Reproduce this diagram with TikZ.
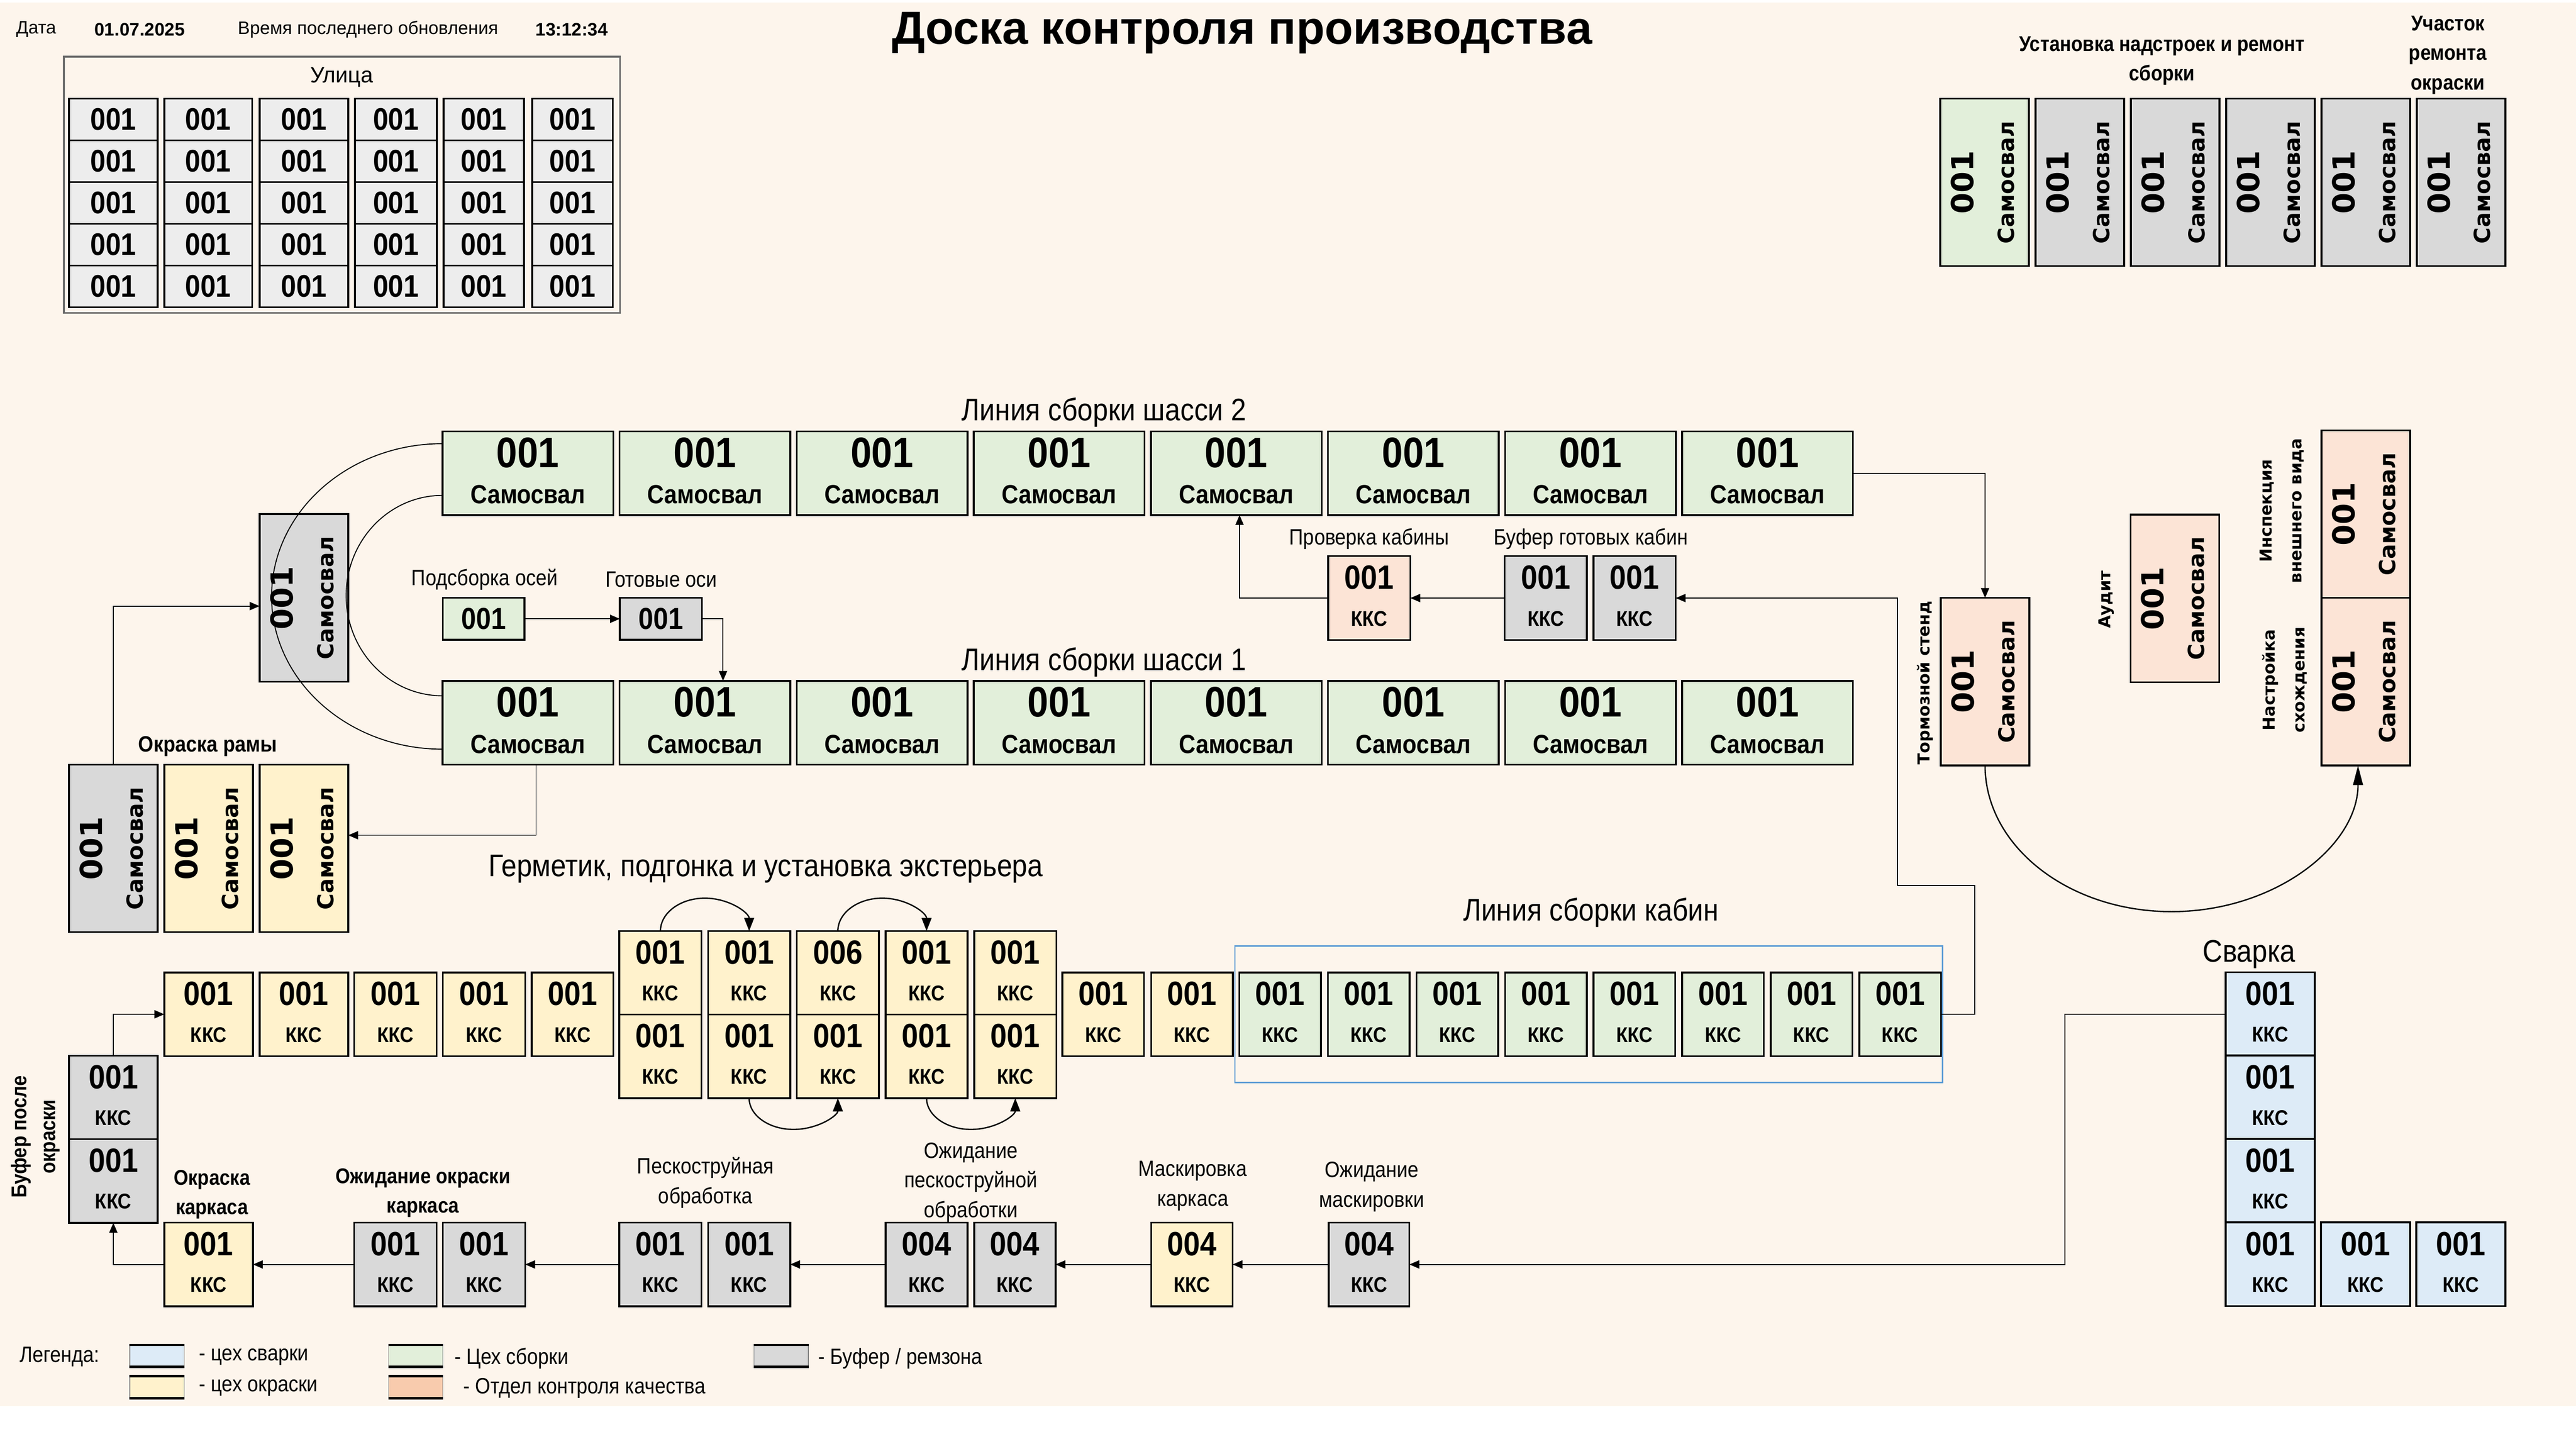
\documentclass[tikz,border=0pt]{standalone}
\usepackage{fontspec}
\setmainfont{Liberation Sans}
\newfontfamily\narrowf{Liberation Sans}[FakeStretch=0.88]
\newfontfamily\dvsans{DejaVu Sans}
\usetikzlibrary{arrows.meta}

\definecolor{bgc}{HTML}{FDF5EC}
\definecolor{weld}{HTML}{DDEBF7}
\definecolor{asm}{HTML}{E2EFDA}
\definecolor{paint}{HTML}{FFF2CC}
\definecolor{qc}{HTML}{FCE4D6}
\definecolor{qcleg}{HTML}{F8CBAD}
\definecolor{buf}{HTML}{D9D9D9}
\definecolor{street}{HTML}{EDEDED}
\definecolor{cabframe}{HTML}{5B9BD5}

\tikzset{
  box/.style={draw, line width=1.1pt, anchor=north west, inner sep=0pt, outer sep=0pt},
  bignum/.style={font=\narrowf\bfseries\fontsize{26}{26}\selectfont, inner sep=0pt},
  bigsub/.style={font=\narrowf\bfseries\fontsize{16}{16}\selectfont, inner sep=0pt},
  midnum/.style={font=\narrowf\bfseries\fontsize{20.5}{20}\selectfont, inner sep=0pt},
  midsub/.style={font=\narrowf\bfseries\fontsize{13}{12}\selectfont, inner sep=0pt},
  vnum/.style={font=\dvsans\bfseries\fontsize{18.5}{18}\selectfont, rotate=90, inner sep=0pt},
  vsub/.style={font=\dvsans\bfseries\fontsize{13.5}{13}\selectfont, rotate=90, inner sep=0pt},
  sect/.style={font=\narrowf\fontsize{19}{21}\selectfont, inner sep=0pt},
  lbl/.style={font=\narrowf\fontsize{13.5}{18}\selectfont, align=center, inner sep=0pt},
  blbl/.style={font=\narrowf\bfseries\fontsize{13}{18}\selectfont, align=center, inner sep=0pt},
  vlbl/.style={font=\dvsans\bfseries\fontsize{10}{18}\selectfont, align=center, rotate=90, inner sep=0pt},
  swatch/.style={draw=gray, line width=0.4pt, minimum width=33, minimum height=13, inner sep=0pt},
  arr/.style={-{Triangle[length=6pt,width=5pt]}, line width=0.6pt},
  arcarr/.style={-{Triangle[length=8pt,width=6pt]}, line width=0.8pt},
  bigarr/.style={-{Triangle[length=12pt,width=6pt]}, line width=0.8pt}
}

% chassis box: name, x, y, fill
\newcommand{\chbox}[4]{%
  \node[box, fill=#4, minimum width=104, minimum height=51] (#1) at ({#2},{#3}) {};
  \node[bignum] at ([yshift=-13pt]#1.north) {001};
  \node[bigsub] at ([yshift=-38.5pt]#1.north) {Самосвал};}
% cabin box: name, x, y, width, fill, number
\newcommand{\kbox}[6]{%
  \node[box, fill=#5, minimum width=#4, minimum height=51] (#1) at ({#2},{#3}) {};
  \node[midnum] at ([yshift=-13pt]#1.north) {#6};
  \node[midsub] at ([yshift=-38pt]#1.north) {ККС};}
% upright truck box: name, x, y, fill
\newcommand{\vtbox}[4]{%
  \node[box, fill=#4, minimum width=54, minimum height=102] (#1) at ({#2},{#3}) {};
  \node[vnum] at ([xshift=13.5pt]#1.west) {001};
  \node[vsub] at ([xshift=40pt]#1.west) {Самосвал};}

\begin{document}
\begin{tikzpicture}[x=1pt, y=-1pt]
  %%%%% START %%%%%
  \useasboundingbox (0,0) rectangle (1568,882);
  \fill[bgc] (0,1.5) rectangle (1568,856);

  % header
  \node[font=\fontsize{11}{11}\selectfont] (dt) at (22,18) {Дата};
  \node[font=\bfseries\fontsize{11}{11}\selectfont] (dtv) at (85,18) {01.07.2025};
  \node[font=\fontsize{11}{11}\selectfont] (upd) at (224,18) {Время последнего обновления};
  \node[font=\bfseries\fontsize{11}{11}\selectfont] (updv) at (348,18) {13:12:34};
  \node[font=\bfseries\fontsize{28.3}{28}\selectfont] (title) at (756,20) {Доска контроля производства};

  % street
  \node[draw=gray!85!black, line width=1pt, anchor=north west, minimum width=338.6, minimum height=156, inner sep=0pt] (street) at (38.4,34) {};
  \node[font=\fontsize{13.5}{13.5}\selectfont] (streetlbl) at (208,47) {Улица};
  \foreach \c/\cx/\cw in {1/42/54, 2/100/53.5, 3/158/54, 4/216/50, 5/270/49, 6/324/49}
    \foreach \r in {1,...,5}
      \node[box, fill=street, minimum width=\cw, minimum height=25.4, font=\narrowf\bfseries\fontsize{19}{19}\selectfont] (st\c\r) at (\cx,{60+25.4*(\r-1)}) {001};

  % body shop and repair
  \node[blbl] (toplbl) at (1316,37) {Установка надстроек и ремонт\\сборки};
  \node[blbl] (replbl) at (1490,33.5) {Участок\\ремонта\\окраски};
  \vtbox{tr1}{1181}{60}{asm}
  \vtbox{tr2}{1239}{60}{buf}
  \vtbox{tr3}{1297}{60}{buf}
  \vtbox{tr4}{1355}{60}{buf}
  \vtbox{tr5}{1413}{60}{buf}
  \vtbox{tr6}{1471}{60}{buf}

  % chassis lines
  \node[sect] (line2lbl) at (672,251) {Линия сборки шасси 2};
  \node[sect] (line1lbl) at (672,403) {Линия сборки шасси 1};
  \foreach \i in {1,...,8} {
    \chbox{l2b\i}{269.3+107.8*(\i-1)}{262.6}{asm}
    \chbox{l1b\i}{269.3+107.8*(\i-1)}{414.5}{asm}
  }
  \vtbox{fb}{158}{313}{buf}

  % axles
  \node[lbl] (sublbl) at (295,352.7) {Подсборка осей};
  \node[lbl] (rdylbl) at (402.6,352.7) {Готовые оси};
  \node[box, fill=asm, minimum width=49.8, minimum height=25.5, font=\narrowf\bfseries\fontsize{18.5}{18.5}\selectfont] (sub1) at (269.5,364) {001};
  \node[box, fill=buf, minimum width=50, minimum height=25.5, font=\narrowf\bfseries\fontsize{18.5}{18.5}\selectfont] (rdy1) at (377.3,364) {001};

  % cabin check and buffer
  \node[lbl] (chklbl) at (833.4,328) {Проверка кабины};
  \node[lbl] (bclbl) at (968.4,328) {Буфер готовых кабин};
  \kbox{chk}{808.5}{338.6}{50}{qc}{001}
  \kbox{bc1}{915.9}{338.6}{50}{buf}{001}
  \kbox{bc2}{970}{338.6}{50}{buf}{001}

  % quality control
  \vtbox{tb}{1181.3}{364}{qc}
  \node[vlbl] (tblbl) at (1171.8,415.7) {Тормозной стенд};
  \vtbox{aud}{1296.8}{313.3}{qc}
  \node[vlbl] (audlbl) at (1282,365) {Аудит};
  \vtbox{insp}{1413}{262}{qc}
  \vtbox{nas}{1413}{364}{qc}
  \node[vlbl] (insplbl) at (1389,311) {Инспекция\\внешнего вида};
  \node[vlbl] (naslbl) at (1390.7,414) {Настройка\\схождения};

  % frame paint
  \node[blbl, font=\narrowf\bfseries\fontsize{13.5}{18}\selectfont] (prlbl) at (126.5,454.5) {Окраска рамы};
  \vtbox{pr1}{42}{465.5}{buf}
  \vtbox{pr2}{100}{465.5}{paint}
  \vtbox{pr3}{158}{465.5}{paint}

  % sealing, fitting, exterior
  \node[sect] (seallbl) at (466,529) {Герметик, подгонка и установка экстерьера};
  \kbox{y1}{100}{592}{54}{paint}{001}
  \kbox{y2}{158}{592}{54}{paint}{001}
  \kbox{y3}{215.6}{592}{50.2}{paint}{001}
  \kbox{y4}{269.5}{592}{50.2}{paint}{001}
  \kbox{y5}{323.6}{592}{49.8}{paint}{001}
  \foreach \i/\n in {1/001, 2/001, 3/006, 4/001, 5/001} {
    \kbox{gt\i}{377+54*(\i-1)}{566.8}{50}{paint}{\n}
    \kbox{gb\i}{377+54*(\i-1)}{617.6}{50}{paint}{001}
  }
  \kbox{y6}{646.6}{592}{49.8}{paint}{001}
  \kbox{y7}{700.7}{592}{49.8}{paint}{001}

  % cabin line
  \node[sect] (cablbl) at (968.4,555.5) {Линия сборки кабин};
  \foreach \i in {1,...,8} {
    \kbox{cb\i}{754.4+53.9*(\i-1)}{592}{49.7}{asm}{001}
  }
  \draw[cabframe, line width=0.9pt] ([xshift=-2.7pt,yshift=16pt]cb1.north west) rectangle ([xshift=1pt,yshift=-16pt]cb8.south east);

  % welding
  \node[sect] (weldlbl) at (1369,581) {Сварка};
  \kbox{w1}{1354.8}{591.9}{54.2}{weld}{001}
  \kbox{w2}{1354.8}{642.6}{54.2}{weld}{001}
  \kbox{w3}{1354.8}{693.4}{54.2}{weld}{001}
  \kbox{w4}{1354.8}{744.2}{54.2}{weld}{001}
  \kbox{w5}{1412.8}{744.2}{54.2}{weld}{001}
  \kbox{w6}{1470.8}{744.2}{54.2}{weld}{001}

  % frame paint line (bottom)
  \node[blbl, rotate=90, font=\narrowf\bfseries\fontsize{13}{17.6}\selectfont] (balbl) at (21.7,692) {Буфер после\\окраски};
  \kbox{ba1}{42}{642.7}{54}{buf}{001}
  \kbox{ba2}{42}{693.5}{54}{buf}{001}
  \node[blbl] (pklbl) at (129,727.2) {Окраска\\каркаса};
  \kbox{pk}{100}{744.3}{54}{paint}{001}
  \node[blbl] (owlbl) at (257.5,726.2) {Ожидание окраски\\каркаса};
  \kbox{ow1}{215.6}{744.3}{50.2}{buf}{001}
  \kbox{ow2}{269.5}{744.3}{50.2}{buf}{001}
  \node[lbl] (sblbl) at (429.4,720) {Пескоструйная\\обработка};
  \kbox{sb1}{377}{744.3}{50}{buf}{001}
  \kbox{sb2}{431}{744.3}{50}{buf}{001}
  \node[lbl] (oplbl) at (591,719.8) {Ожидание\\пескоструйной\\обработки};
  \kbox{op1}{539}{744.3}{50}{buf}{004}
  \kbox{op2}{593}{744.3}{49.5}{buf}{004}
  \node[lbl] (mklbl) at (726,722) {Маскировка\\каркаса};
  \kbox{mk}{700.7}{744.3}{49.6}{paint}{004}
  \node[lbl] (omlbl) at (835,722.5) {Ожидание\\маскировки};
  \kbox{om}{808.7}{744.3}{49.2}{buf}{004}

  % connectors
  \draw[line width=0.6pt] ([yshift=18pt]l2b1.west) arc[start angle=270, end angle=90, x radius=104, y radius=93];
  \draw[line width=0.6pt] ([yshift=-13.5pt]l2b1.west) arc[start angle=270, end angle=90, x radius=58.6, y radius=61];
  \draw[arr] (sub1) -- (rdy1);
  \draw[arr] (rdy1.east) -| ([xshift=11pt]l1b2.north);
  \draw[arr] (bc1) -- (chk);
  \draw[arr] (chk.west) -| ([xshift=2pt]l2b5.south);
  \coordinate (cabup) at (1202,539);
  \coordinate (cableft) at (1155,539);
  \draw[arr] (cb8.east) -| (cabup) -- (cableft) |- (bc2.east);
  \draw[arr] (l2b8.east) -| (tb.north);
  \draw[bigarr] (tb.south) arc[start angle=180, end angle=0, x radius=113.5, y radius=89];
  \draw[arr] (pr1.north) |- ([yshift=-5pt]fb.west);
  \draw[arr] ([xshift=5pt]l1b1.south) |- ([yshift=8pt]pr3.east);
  \draw[arcarr] (gt1.north) arc[start angle=180, end angle=360, x radius=27, y radius=20];
  \draw[arcarr] (gt3.north) arc[start angle=180, end angle=360, x radius=27, y radius=20];
  \draw[arcarr] (gb2.south) arc[start angle=180, end angle=0, x radius=27, y radius=19];
  \draw[arcarr] (gb4.south) arc[start angle=180, end angle=0, x radius=27, y radius=19];
  \coordinate (weldturn) at (1257,700);
  \draw[arr] (w1.west) -| (weldturn) |- (om.east);
  \draw[arr] (om) -- (mk);
  \draw[arr] (mk) -- (op2);
  \draw[arr] (op1) -- (sb2);
  \draw[arr] (sb1) -- (ow2);
  \draw[arr] (ow1) -- (pk);
  \draw[arr] (pk.west) -| (ba2.south);
  \draw[arr] (ba1.north) |- (y1.west);

  % legend
  \node[lbl, anchor=west] (leglbl) at (12,826) {Легенда:};
  \node[swatch, fill=weld] (lg1) at (95.5,825.5) {};
  \node[swatch, fill=paint] (lg2) at (95.5,844.5) {};
  \node[swatch, fill=asm] (lg3) at (253,825.5) {};
  \node[swatch, fill=qcleg] (lg4) at (253,844.5) {};
  \node[swatch, fill=buf] (lg5) at (475.5,825.5) {};
  \foreach \s in {lg1,lg2,lg3,lg4,lg5}
    \draw[line width=1.4pt] (\s.north west) -- (\s.north east) (\s.south west) -- (\s.south east);
  \node[lbl, anchor=west] (lgt1) at (121,826) {- цех сварки};
  \node[lbl, anchor=west] (lgt2) at (121,845) {- цех окраски};
  \node[lbl, anchor=west] (lgt3) at (276.4,827) {- Цех сборки};
  \node[lbl, anchor=west] (lgt4) at (282,845) {- Отдел контроля качества};
  \node[lbl, anchor=west] (lgt5) at (498,827) {- Буфер / ремзона};
  %%%%% END %%%%%
\end{tikzpicture}
\end{document}
